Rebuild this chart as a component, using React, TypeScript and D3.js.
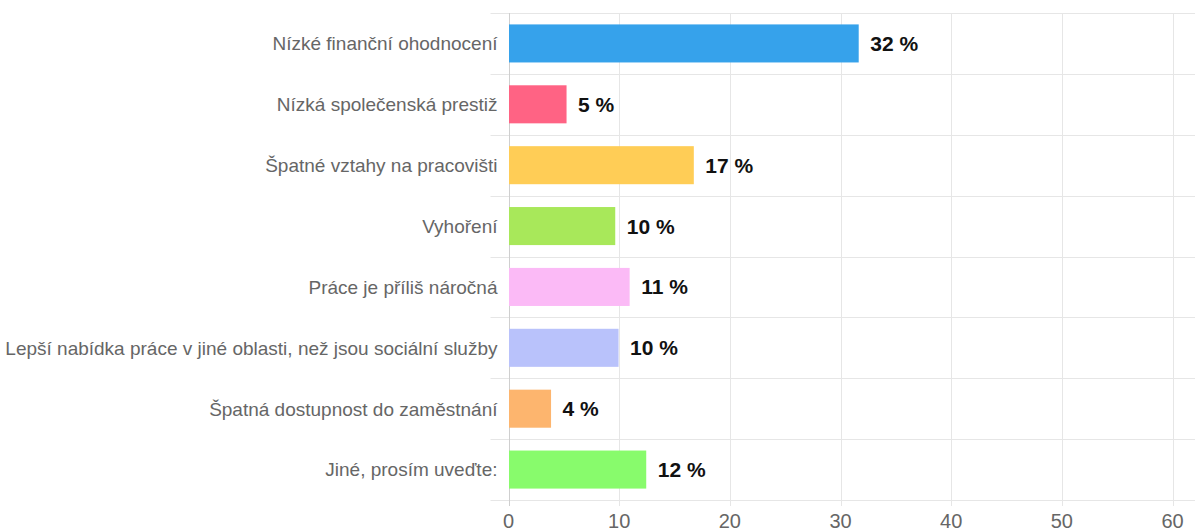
import React, { useEffect, useRef } from 'react';
import * as d3 from 'd3';

const categories = [
  'Nízké finanční ohodnocení',
  'Nízká společenská prestiž',
  'Špatné vztahy na pracovišti',
  'Vyhoření',
  'Práce je příliš náročná',
  'Lepší nabídka práce v jiné oblasti, než jsou sociální služby',
  'Špatná dostupnost do zaměstnání',
  'Jiné, prosím uveďte:',
];
const values = [31.6, 5.2, 16.7, 9.6, 10.9, 9.9, 3.8, 12.4];
const valueLabels = ['32 %', '5 %', '17 %', '10 %', '11 %', '10 %', '4 %', '12 %'];
const colors = ['#36a2eb', '#ff6384', '#ffcd56', '#a8e85a', '#fbbaf6', '#b9c2fb', '#fdb56e', '#88fb6c'];
const xTicks = [0, 10, 20, 30, 40, 50, 60];

const W = 1195;
const H = 531;
const M = { left: 508.5, right: 1172.5, top: 13, bottom: 500 };
const FONT = 'Arial, "Liberation Sans", sans-serif';

const App: React.FC = () => {
  const ref = useRef<SVGSVGElement | null>(null);

  useEffect(() => {
    const svg = d3.select(ref.current);
    svg.selectAll('*').remove();

    const x = d3.scaleLinear().domain([0, 60]).range([M.left, M.right]);
    const y = d3.scaleBand<string>().domain(categories).range([M.top, M.bottom]).paddingInner(0.375).paddingOuter(0.1875);
    const band = (M.bottom - M.top) / categories.length;

    const grid = svg.append('g');
    // horizontal grid lines (category boundaries)
    d3.range(categories.length + 1).forEach((i) => {
      const yy = Math.round(M.top + i * band) + 0.5;
      grid.append('line')
        .attr('x1', M.left - 18).attr('x2', W)
        .attr('y1', yy).attr('y2', yy)
        .attr('stroke', '#e6e6e6').attr('stroke-width', 1);
    });
    // vertical grid lines
    xTicks.forEach((t) => {
      const xx = Math.round(x(t)) + 0.5;
      grid.append('line')
        .attr('x1', xx).attr('x2', xx)
        .attr('y1', M.top).attr('y2', M.bottom + 6)
        .attr('stroke', t === 0 ? '#cfcfcf' : '#e6e6e6').attr('stroke-width', 1);
    });

    svg.append('g')
      .selectAll('rect')
      .data(values)
      .enter()
      .append('rect')
      .attr('x', x(0) + 0.5)
      .attr('y', (_d, i) => y(categories[i]) || 0)
      .attr('width', (d) => x(d) - x(0))
      .attr('height', y.bandwidth())
      .attr('fill', (_d, i) => colors[i]);

    svg.append('g')
      .selectAll('text')
      .data(values)
      .enter()
      .append('text')
      .attr('x', (d) => x(d) + 12)
      .attr('y', (_d, i) => (y(categories[i]) || 0) + y.bandwidth() / 2)
      .attr('dy', '0.36em')
      .attr('font-family', FONT)
      .attr('font-weight', 'bold')
      .attr('font-size', 21)
      .attr('fill', '#111')
      .text((_d, i) => valueLabels[i]);

    svg.append('g')
      .selectAll('text')
      .data(categories)
      .enter()
      .append('text')
      .attr('x', M.left - 11)
      .attr('y', (d) => (y(d) || 0) + y.bandwidth() / 2)
      .attr('dy', '0.36em')
      .attr('text-anchor', 'end')
      .attr('font-family', FONT)
      .attr('font-size', 19)
      .attr('fill', '#666')
      .text((d) => d);

    svg.append('g')
      .selectAll('text')
      .data(xTicks)
      .enter()
      .append('text')
      .attr('x', (d) => x(d))
      .attr('y', 528)
      .attr('text-anchor', 'middle')
      .attr('font-family', FONT)
      .attr('font-size', 20)
      .attr('fill', '#666')
      .text((d) => String(d));
  }, []);

  return (
    <svg
      ref={ref}
      width={W}
      height={H}
      style={{ position: 'absolute', left: 0, top: 0, background: '#fff' }}
    />
  );
};

export default App;
